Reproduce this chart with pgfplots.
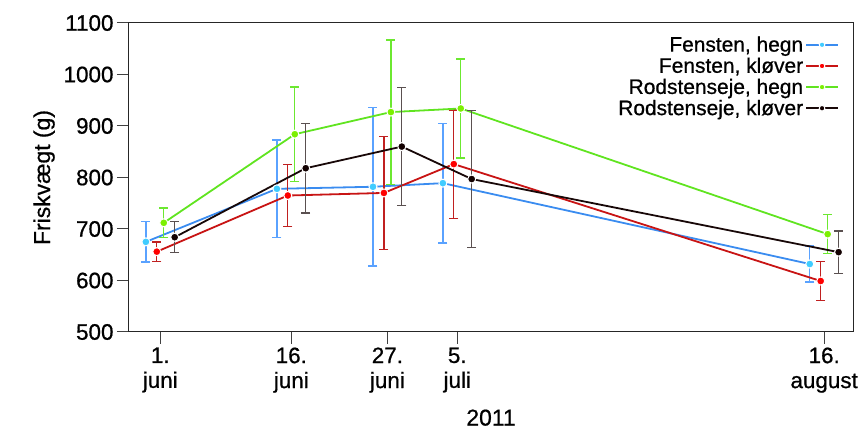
\documentclass[border=0pt]{standalone}
\usepackage{pgfplots}
\pgfplotsset{compat=1.18}
\usepackage{fontspec}
\setmainfont{Liberation Sans}[FakeBold=0.7]
\definecolor{bline}{HTML}{3A8CF0}
\definecolor{bmark}{HTML}{40CCFF}
\definecolor{berr}{HTML}{5AA2FF}
\definecolor{rline}{HTML}{C81414}
\definecolor{rmark}{HTML}{FF0000}
\definecolor{rerr}{HTML}{C02020}
\definecolor{gline}{HTML}{60E420}
\definecolor{gmark}{HTML}{7CF000}
\definecolor{gerr}{HTML}{6CE830}
\definecolor{kline}{HTML}{180808}
\definecolor{kmark}{HTML}{120000}
\definecolor{kerr}{HTML}{5A5050}
\newcommand{\tfont}{\fontsize{22.5}{25}\selectfont}
\begin{document}
\begin{tikzpicture}
\begin{axis}[
  scale only axis, width=724bp, height=309bp,
  xmin=-3.58, xmax=79.3, ymin=500, ymax=1100,
  xtick={0,15,26,34,76},
  xticklabels={{1.\\juni},{16.\\juni},{27.\\juni},{5.\\juli},{16.\\august}},
  xticklabel style={align=center, font=\tfont},
  ytick={500,600,...,1100},
  yticklabel style={font=\tfont},
  /pgf/number format/assume math mode=true,
  /pgf/number format/set thousands separator={},
  tick align=outside, xtick pos=bottom, ytick pos=left,
  major tick length=12bp,
  tick style={line width=1bp, color=black!75},
  axis line style={line width=1bp, color=black!85},
  xlabel={2011}, ylabel={Friskvægt (g)},
  label style={font=\fontsize{23}{24}\selectfont},
  xlabel style={yshift=-10bp},
  ylabel style={yshift=2bp},
  legend style={at={(0.985,0.97)}, anchor=north east, draw=none, fill=none,
    font=\fontsize{21}{22}\selectfont, row sep=0.5bp, nodes={inner sep=2bp}},
  legend cell align=right,
  legend plot pos=right,
  legend image code/.code={\draw[mark repeat=2,mark phase=2,#1,mark size=2.8bp] plot coordinates {(0bp,0bp) (16bp,0bp) (32bp,0bp)};},
  every axis plot/.append style={line width=1.8bp},
  error bars/y dir=both, error bars/y explicit,
  error bars/error mark=-,
]
\addplot[color=bline, mark=*, mark size=4bp, mark options={draw=white, fill=bmark, line width=1bp},
  error bars/error bar style={color=berr, line width=1.3bp},
  error bars/error mark options={color=berr, line width=1.3bp, mark size=4.5bp, rotate=90}]
  table[x=x, y=y, y error=e] {
x y e
-1.65 675 39
13.35 778 95
24.35 782 154
32.35 789 116
74.35 632 35
};
\addlegendentry{Fensten, hegn}
\addplot[color=rline, mark=*, mark size=4bp, mark options={draw=white, fill=rmark, line width=1bp},
  error bars/error bar style={color=rerr, line width=1.3bp},
  error bars/error mark options={color=rerr, line width=1.3bp, mark size=4.5bp, rotate=90}]
  table[x=x, y=y, y error=e] {
x y e
-0.4 656 19
14.6 765 60
25.6 770 110
33.6 826 105
75.6 599 38
};
\addlegendentry{Fensten, kløver}
\addplot[color=gline, mark=*, mark size=4bp, mark options={draw=white, fill=gmark, line width=1bp},
  error bars/error bar style={color=gerr, line width=1.3bp},
  error bars/error mark options={color=gerr, line width=1.3bp, mark size=4.5bp, rotate=90}]
  table[x=x, y=y, y error=e] {
x y e
0.4 712 29
15.4 884 92
26.4 927 140
34.4 934 96
76.4 690 38
};
\addlegendentry{Rodstenseje, hegn}
\addplot[color=kline, mark=*, mark size=4bp, mark options={draw=white, fill=kmark, line width=1bp},
  error bars/error bar style={color=kerr, line width=1.3bp},
  error bars/error mark options={color=kerr, line width=1.3bp, mark size=4.5bp, rotate=90}]
  table[x=x, y=y, y error=e] {
x y e
1.65 684 30
16.65 818 87
27.65 860 115
35.65 797 133
77.65 655 41
};
\addlegendentry{Rodstenseje, kløver}
\end{axis}
\pgfresetboundingbox
\path (current axis.south west) ++(-129bp,-100bp) coordinate (bbA);
\path (current axis.north east) ++(8bp,23bp) coordinate (bbB);
\path[use as bounding box] (bbA) rectangle (bbB);
\end{tikzpicture}
\end{document}
